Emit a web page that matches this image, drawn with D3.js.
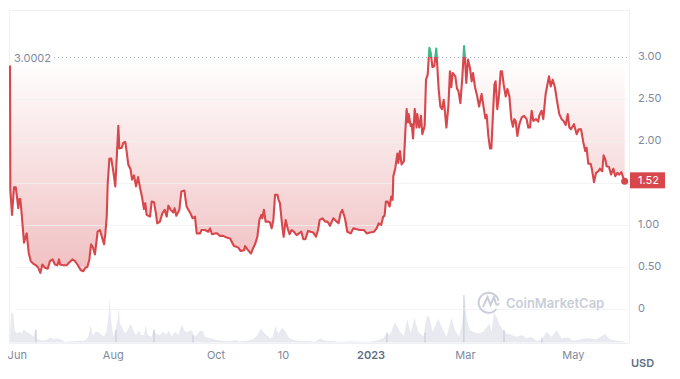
<!DOCTYPE html>
<html>
<head>
<meta charset="utf-8">
<script src="https://cdn.jsdelivr.net/npm/d3@7"></script>
<style>
    html, body { margin: 0; padding: 0; background: #fff; }
    svg { display: block; font-family: Inter, "Noto Sans", sans-serif; }
    .axis text { fill: #808a9d; font-size: 11px; font-family: Inter, "Noto Sans", sans-serif; }
    .axis .domain, .axis line { display: none; }
</style>
</head>
<body>
<div id="chart"></div>
<script>
// days counted from 1 Jun 2022, price in USD
let priceDays = [0,0.2,1.2,2.4,3.4,4,4.9,5.5,6.1,6.9,8.3,9.9,11.1,12.3,13.8,15.4,16.8,18,19.2,20.8,22.4,23.7,25.3,26.7,28.1,29.1,29.7,31.7,33.6,35,37,38.6,40,42.1,43.5,44.7,45.9,47.1,48.1,49.3,50.4,52,53.4,54.4,55.8,56.6,57.4,58,59,60.1,61.3,62.5,63.3,64.3,64.9,66.3,67.3,68.4,69.2,70.2,71.6,72.4,73.6,74.8,76,77.2,78.3,79.5,80.3,81.1,83.1,84.1,85.5,86.6,87.4,89,90.4,91.8,93,94,95.4,96.9,97.7,98.7,100.5,101.7,103.5,104.8,106.8,108.4,109.8,110.8,112.8,113.6,115.7,117.7,118.7,119.9,121.7,123,124.6,126.6,128.6,130.6,132.9,134.5,135.5,136.9,138.9,139.5,140.9,143,144.4,145.4,146.8,148,149.2,149.7,150.7,151.7,153.3,154.3,155.3,156.3,157.3,158.7,159.4,160.2,161.4,162.4,163.6,164.8,165.9,167.1,168.5,170.1,171.5,172.9,174.1,175.3,176.9,178.4,180,181.6,182.8,183.8,185.4,187,188.5,189.9,191.9,193.9,195,196.2,197.2,198.8,200.2,202.2,203.8,205.7,207.7,210.1,211.7,213.6,216,217.6,218.8,220.3,221.5,222.3,223.1,224.1,225.3,226.3,227.1,227.5,228.7,229.9,230.4,231.4,232.4,233.8,234.6,235.4,236.2,236.6,237.8,238.4,239.2,240.2,241.3,241.7,242.9,243.9,244.7,246.1,246.9,247.9,248.9,249.7,250.7,251.8,253,253.6,254.4,255.4,256.4,257.4,258,259,260.2,261.1,261.9,262.7,264.3,265.3,266.1,267.3,268.5,269.5,270,270.8,271.8,273,274,274.8,276,277.2,278.4,279.9,281.1,282.1,282.9,283.9,284.9,285.7,286.5,287.5,288.2,289.2,290.2,291.2,292,293,294.2,295.2,296.4,297.5,298.5,299.3,300.1,301.1,302.3,303.7,305.1,306.6,307.6,308.6,309.6,310.6,312.2,313.5,314.1,315.5,316.5,317.9,319.9,320.9,322.1,323.4,324.8,326,327.4,328.4,329.8,331,332,332.9,334.7,336.3,337.5,338.9,340.3,341.4,342.2,343.2,344.6,345.4,346.6,347.8,349.2,350.1,351.5,352.3,353.3,354.1,355.5,356.7,358.1,359.2,360.4,361.6,362.8,364,364.8];
let prices = [2.9,1.42,1.12,1.45,1.45,1.36,1.2,1.31,1.31,1.14,.79,.9,.67,.57,.54,.52,.49,.43,.53,.49,.48,.57,.59,.53,.52,.59,.53,.52,.52,.55,.59,.57,.53,.46,.45,.49,.5,.59,.77,.73,.65,.92,.94,.87,.77,.9,1.1,1.5,1.79,1.79,1.64,1.46,1.78,2.18,1.91,1.92,1.98,1.99,1.88,1.72,1.66,1.54,1.59,1.46,1.57,1.44,1.34,1.19,1.26,1.12,1.1,1.28,1.27,1.14,1.02,1.04,1.14,1.18,1.1,1.23,1.18,1.15,1.2,1.11,1.18,1.4,1.41,1.22,1.15,1.08,1.1,.9,.9,.94,.94,.92,.96,.89,.9,.9,.87,.87,.85,.84,.75,.74,.73,.69,.7,.75,.71,.66,.73,.77,.86,1.06,1.12,1.08,1.18,1.04,1.04,1.03,.96,1.06,1.36,1.36,1.3,1.26,1.02,.86,1.06,.96,.89,.94,.92,.88,.9,.92,.83,.83,.93,.92,.91,.86,.94,1.06,1.08,1.04,1.04,.99,1.08,1.04,1.02,1.14,1.18,1.08,.92,.9,.96,.95,.94,.94,.9,.91,.92,.96,1.02,1,1.1,1.11,1.28,1.28,1.22,1.34,1.3,1.58,1.68,1.85,1.74,1.88,1.72,1.76,2.1,2.38,2.22,2.32,2.18,2.2,2.03,2.38,2.16,2.32,2.16,2.3,2.08,2.18,2.73,2.79,3.11,3.05,2.88,2.89,3.1,2.89,2.62,2.41,2.38,2.49,2.38,2.16,2.42,2.83,2.64,2.81,2.77,2.62,2.6,2.45,2.77,3.13,2.99,2.69,2.97,2.87,2.71,2.81,2.64,2.54,2.41,2.56,2.4,2.27,2.31,2.06,1.91,1.91,2.26,2.67,2.71,2.38,2.54,2.83,2.83,2.67,2.53,2.62,2.53,2.26,2.17,2.26,2.24,2.06,2.2,2.28,2.3,2.26,2.16,2.16,2.36,2.24,2.26,2.23,2.3,2.36,2.26,2.56,2.77,2.65,2.73,2.64,2.46,2.32,2.26,2.24,2.19,2.32,2.16,2.14,2.2,2.08,2.14,2.14,1.98,1.88,1.92,1.73,1.73,1.66,1.51,1.62,1.64,1.67,1.64,1.83,1.78,1.7,1.69,1.6,1.67,1.58,1.62,1.6,1.63,1.56,1.52];

// volume strip, relative height only (no scale is shown in the picture)
let volumeDays = [0,.6,1.2,2,2.8,4,5.5,6.9,8.3,9.9,11.5,12.9,14.2,14.8,15.4,16.2,18.8,21.8,24.1,25.7,28.1,29.7,32.6,36.6,40.6,44.5,46.5,47.9,49.1,50.8,52.4,54.4,55.8,57.4,58.4,59.1,59.9,61.3,62.5,63.7,64.5,65.3,66.9,68.2,69.8,71.6,73.2,74.8,76.4,78.1,79.5,80.5,81.7,84.1,85.1,86.6,89,91,92.4,94.4,95.9,97.9,99.9,101.9,103.9,105.8,107.8,109.8,112.2,114.1,115.7,118.7,122.6,126.6,130.6,133.5,136.5,140.5,144.4,146.8,148.8,151.3,154.3,155.9,157.5,159.2,161.6,163.6,165.8,168.2,172.1,178,181,184.4,186.9,191.9,195.8,201.8,207.7,213.6,217.6,221.6,223.9,225.5,228.5,231.4,233.8,235.8,237.8,240.1,242.3,245.3,247.3,248.9,250.8,254.2,257.2,259.1,262.1,264.1,266.6,268.6,269.8,271,272.9,274.9,277.9,280.8,284.5,285.9,287.2,288.8,290.8,292.7,294.7,297.7,300.7,303.6,306.6,309.5,312.5,315.5,318.4,321.4,324.4,327.3,331.3,334.3,338.2,343.2,348.1,353.1,356,360,364.9];
let volumes = [18,88,93,88,38,28,33,28,40,33,28,23,18,38,40,10,6,8,16,10,12,10,2,4,5,5,18,53,23,33,33,23,18,38,78,138,73,18,38,63,108,58,43,28,38,58,38,23,38,23,23,53,23,18,40,28,23,33,23,36,18,33,23,55,33,33,38,18,33,38,18,13,8,5,3,8,3,5,10,23,43,28,13,18,51,28,45,33,13,8,5,4,2,12,5,4,2,4,2,2,6,13,30,23,63,33,20,73,28,76,33,18,83,78,33,73,38,18,76,38,18,68,146,73,38,33,28,33,58,33,93,78,53,38,28,23,18,23,13,18,5,8,33,18,38,13,16,5,10,13,10,26,10,6,2];

// thin darker stems that stand in the volume strip
let stemDays = [15.4, 62.9, 85.5, 108.6, 223.7, 246.3, 269.4, 293.2, 315.7];
let stemValues = [40, 38, 40, 22, 30, 30, 146, 38, 14];

let baseline = 3.0002;
let lastPrice = 1.52;
let gridValues = [0, 0.5, 1, 1.5, 2, 2.5];
let yTicks = [0, 0.5, 1, 2, 2.5, 3];
let xTickDays = [4, 61, 122, 162, 214, 270, 334];
let xTickLabels = ["Jun", "Aug", "Oct", "10", "2023", "Mar", "May"];

let width = 680, height = 379;

let svg = d3.select("#chart").append("svg")
    .attr("width", width)
    .attr("height", height);

let xScale = d3.scaleLinear().domain([0, 365]).range([10, 625]);
let yScale = d3.scaleLinear().domain([0, 3]).range([309, 57]);
let volScale = d3.scaleLinear().domain([0, 146]).range([342.5, 295]);

let points = priceDays.map(function (d, i) { return { day: d, price: prices[i] }; });
let volPoints = volumeDays.map(function (d, i) { return { day: d, value: volumes[i] }; });

let defs = svg.append("defs");

let gradient = defs.append("linearGradient")
    .attr("id", "redFill")
    .attr("gradientUnits", "userSpaceOnUse")
    .attr("x1", 0).attr("x2", 0)
    .attr("y1", yScale(baseline)).attr("y2", yScale(0.4));
gradient.append("stop").attr("offset", "0%").attr("stop-color", "#fff");
gradient.append("stop").attr("offset", "100%").attr("stop-color", "#f0bfc1");

// above / below the 3.0002 baseline the line changes colour
defs.append("clipPath").attr("id", "clipBelow").append("rect")
    .attr("x", 0).attr("y", yScale(baseline)).attr("width", width).attr("height", height);
defs.append("clipPath").attr("id", "clipAbove").append("rect")
    .attr("x", 0).attr("y", 0).attr("width", width).attr("height", yScale(baseline));

// frame
let frame = svg.append("g").attr("stroke", "#eff1f4").attr("fill", "none");
frame.append("line").attr("x1", 9.5).attr("x2", 629.5).attr("y1", 10.5).attr("y2", 10.5);
frame.append("line").attr("x1", 9.5).attr("x2", 9.5).attr("y1", 10.5).attr("y2", 343.5);
frame.append("line").attr("x1", 629.5).attr("x2", 629.5).attr("y1", 10.5).attr("y2", 343.5);
frame.append("line").attr("x1", 9.5).attr("x2", 629.5).attr("y1", 343.5).attr("y2", 343.5);

// volume
let volArea = d3.area()
    .x(function (d) { return xScale(d.day); })
    .y0(volScale(0))
    .y1(function (d) { return volScale(d.value); });

svg.append("path")
    .datum(volPoints)
    .attr("d", volArea)
    .attr("fill", "#e8eaf0");

svg.append("g")
    .selectAll("line")
    .data(stemDays)
    .enter()
    .append("line")
    .attr("x1", function (d) { return xScale(d); })
    .attr("x2", function (d) { return xScale(d); })
    .attr("y1", volScale(0))
    .attr("y2", function (d, i) { return volScale(stemValues[i]); })
    .attr("stroke", "#c3c8d4")
    .attr("stroke-width", 1);

// price area between the line and the baseline
let priceArea = d3.area()
    .x(function (d) { return xScale(d.day); })
    .y0(yScale(baseline))
    .y1(function (d) { return yScale(d.price); });

let priceLine = d3.line()
    .x(function (d) { return xScale(d.day); })
    .y(function (d) { return yScale(d.price); });

svg.append("path").datum(points)
    .attr("d", priceArea)
    .attr("fill", "url(#redFill)")
    .attr("clip-path", "url(#clipBelow)");

svg.append("path").datum(points)
    .attr("d", priceArea)
    .attr("fill", "#7fd3ae")
    .attr("clip-path", "url(#clipAbove)");

// gridlines
svg.append("g")
    .selectAll("line")
    .data(gridValues)
    .enter()
    .append("line")
    .attr("x1", 15)
    .attr("x2", 629)
    .attr("y1", function (d) { return Math.round(yScale(d)) + 0.5; })
    .attr("y2", function (d) { return Math.round(yScale(d)) + 0.5; })
    .attr("stroke", "#eff1f4")
    .attr("stroke-opacity", 0.8);

svg.append("line")
    .attr("x1", 54)
    .attr("x2", 629)
    .attr("y1", 57.5)
    .attr("y2", 57.5)
    .attr("stroke", "#a6b0c3")
    .attr("stroke-width", 1)
    .attr("stroke-dasharray", "1 3");

svg.append("text")
    .attr("x", 14)
    .attr("y", 62)
    .attr("fill", "#808a9d")
    .attr("font-size", 11)
    .text("3.0002");

svg.append("path").datum(points)
    .attr("d", priceLine)
    .attr("fill", "none")
    .attr("stroke", "#d8474c")
    .attr("stroke-width", 2.1)
    .attr("stroke-linejoin", "round")
    .attr("clip-path", "url(#clipBelow)");

svg.append("path").datum(points)
    .attr("d", priceLine)
    .attr("fill", "none")
    .attr("stroke", "#3fb683")
    .attr("stroke-width", 2.1)
    .attr("stroke-linejoin", "round")
    .attr("clip-path", "url(#clipAbove)");

// axes
svg.append("g")
    .attr("class", "axis")
    .attr("transform", "translate(632,-1)")
    .call(d3.axisRight(yScale)
        .tickValues(yTicks)
        .tickSize(0)
        .tickPadding(6)
        .tickFormat(function (d) { return d == 0 ? "0" : d3.format(".2f")(d); }));

svg.append("g")
    .attr("class", "axis")
    .attr("transform", "translate(0,346)")
    .call(d3.axisBottom(xScale)
        .tickValues(xTickDays)
        .tickSize(0)
        .tickPadding(5)
        .tickFormat(function (d, i) { return xTickLabels[i]; }))
    .selectAll("text")
    .attr("font-weight", function (d, i) { return xTickLabels[i] == "2023" ? 600 : 400; })
    .style("fill", function (d, i) { return xTickLabels[i] == "2023" ? "#616e85" : "#808a9d"; });

svg.append("text")
    .attr("x", 631)
    .attr("y", 367)
    .attr("fill", "#616e85")
    .attr("font-size", 11)
    .attr("font-weight", 600)
    .text("USD");

// last price marker and label
svg.append("circle")
    .attr("cx", xScale(priceDays[priceDays.length - 1]))
    .attr("cy", yScale(lastPrice))
    .attr("r", 3.5)
    .attr("fill", "#d8474c");

svg.append("rect")
    .attr("x", 630)
    .attr("y", yScale(lastPrice) - 9)
    .attr("width", 35)
    .attr("height", 16)
    .attr("fill", "#d8474c");

svg.append("text")
    .attr("x", 638)
    .attr("y", yScale(lastPrice) + 3)
    .attr("fill", "#fff")
    .attr("font-size", 11)
    .text(d3.format(".2f")(lastPrice));

// watermark
let mark = svg.append("g").attr("fill", "none").attr("stroke", "#c9ced9").attr("stroke-width", 2);
mark.append("path").attr("d", "M496.5 309 A10 10 0 1 1 498.5 301");
mark.append("path").attr("d", "M483 307 L487.5 297 L490.5 305 L494 297 L496 304 Q497.5 306 499 303");

svg.append("text")
    .attr("x", 506)
    .attr("y", 308)
    .attr("fill", "#c9ced9")
    .attr("font-size", 13)
    .attr("font-weight", 600)
    .text("CoinMarketCap");
</script>
</body>
</html>
